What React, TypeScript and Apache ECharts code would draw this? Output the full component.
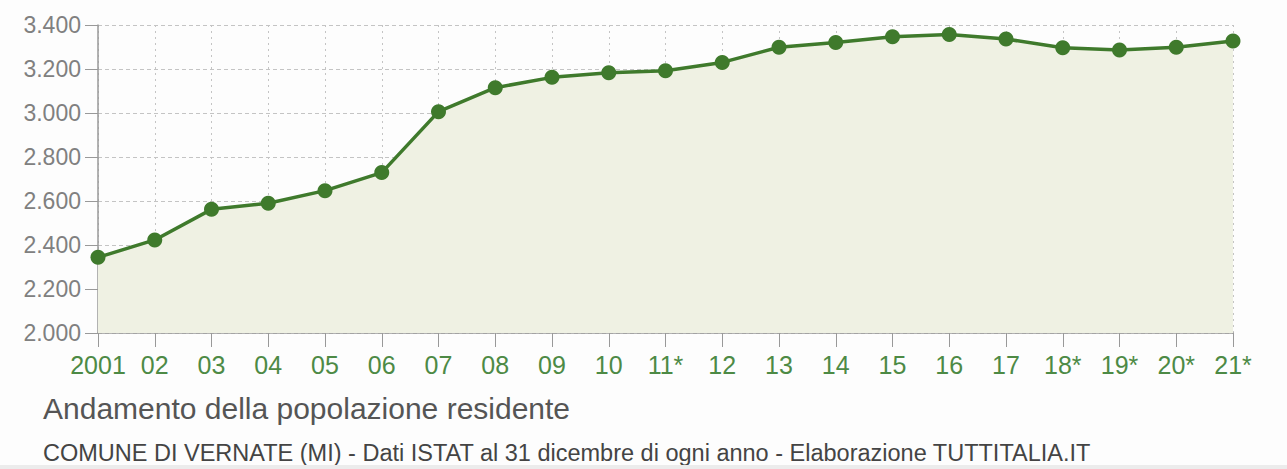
import React, { useEffect, useRef } from "react";
import * as echarts from "echarts";

const years = ["2001", "02", "03", "04", "05", "06", "07", "08", "09", "10", "11*", "12", "13", "14", "15", "16", "17", "18*", "19*", "20*", "21*"];
const population = [2344, 2423, 2562, 2590, 2647, 2729, 3006, 3115, 3162, 3183, 3192, 3230, 3299, 3320, 3347, 3357, 3336, 3297, 3286, 3299, 3327];
const yTicks = { min: 2000, max: 3400, interval: 200 };
const titleText = "Andamento della popolazione residente";
const subtitleText = "COMUNE DI VERNATE (MI) - Dati ISTAT al 31 dicembre di ogni anno - Elaborazione TUTTITALIA.IT";

const fmt = (v: number) => {
  const s = String(Math.round(v));
  return s.length > 3 ? s.slice(0, s.length - 3) + "." + s.slice(s.length - 3) : s;
};

export default function App() {
  const ref = useRef<HTMLDivElement>(null);
  useEffect(() => {
    if (!ref.current) return;
    const chart = echarts.init(ref.current, null, { renderer: "svg" });
    const font = "'Liberation Sans', Arial, Helvetica, sans-serif";
    chart.setOption({
      animation: false,
      backgroundColor: "#fdfdfd",
      textStyle: { fontFamily: font },
      grid: { left: 98, right: 54, top: 25, bottom: 136, containLabel: false },
      xAxis: {
        type: "category",
        data: years,
        boundaryGap: false,
        axisLine: { lineStyle: { color: "#999", width: 1.5 } },
        axisTick: { show: true, interval: 0, length: 14, lineStyle: { color: "#999" } },
        axisLabel: { interval: 0, hideOverlap: false, color: "#4d8a45", fontSize: 25, margin: 19, fontFamily: font },
        splitLine: { show: true, interval: 0, lineStyle: { color: "#c4c4c4", type: [2, 4], width: 1 } },
      },
      yAxis: {
        type: "value",
        min: yTicks.min,
        max: yTicks.max,
        interval: yTicks.interval,
        axisLine: { show: true, lineStyle: { color: "#999", width: 1.5 } },
        axisTick: { show: true, length: 13, lineStyle: { color: "#999" } },
        axisLabel: { color: "#808080", fontSize: 23, margin: 17, fontFamily: font, formatter: (v: number) => fmt(v) },
        splitLine: { show: true, lineStyle: { color: "#c4c4c4", type: [4, 3], width: 1 } },
      },
      series: [
        {
          type: "line",
          data: population,
          symbol: "circle",
          symbolSize: 15,
          itemStyle: { color: "#3f7a2c" },
          lineStyle: { color: "#3f7a2c", width: 3.5 },
          areaStyle: { color: "#eff1e3", opacity: 1 },
        },
      ],
      graphic: [
        {
          type: "text",
          left: 43,
          top: 393,
          style: { text: titleText, fill: "#555", font: `30px ${font}` },
        },
        {
          type: "text",
          left: 43,
          top: 441,
          style: { text: subtitleText, fill: "#444", font: `23.5px ${font}` },
        },
        {
          type: "rect",
          left: 0,
          top: 465,
          shape: { width: 1287, height: 4 },
          style: { fill: "#ececec" },
        },
      ],
    });
    return () => chart.dispose();
  }, []);
  return <div ref={ref} style={{ position: "fixed", left: 0, top: 0, width: 1287, height: 469 }} />;
}
